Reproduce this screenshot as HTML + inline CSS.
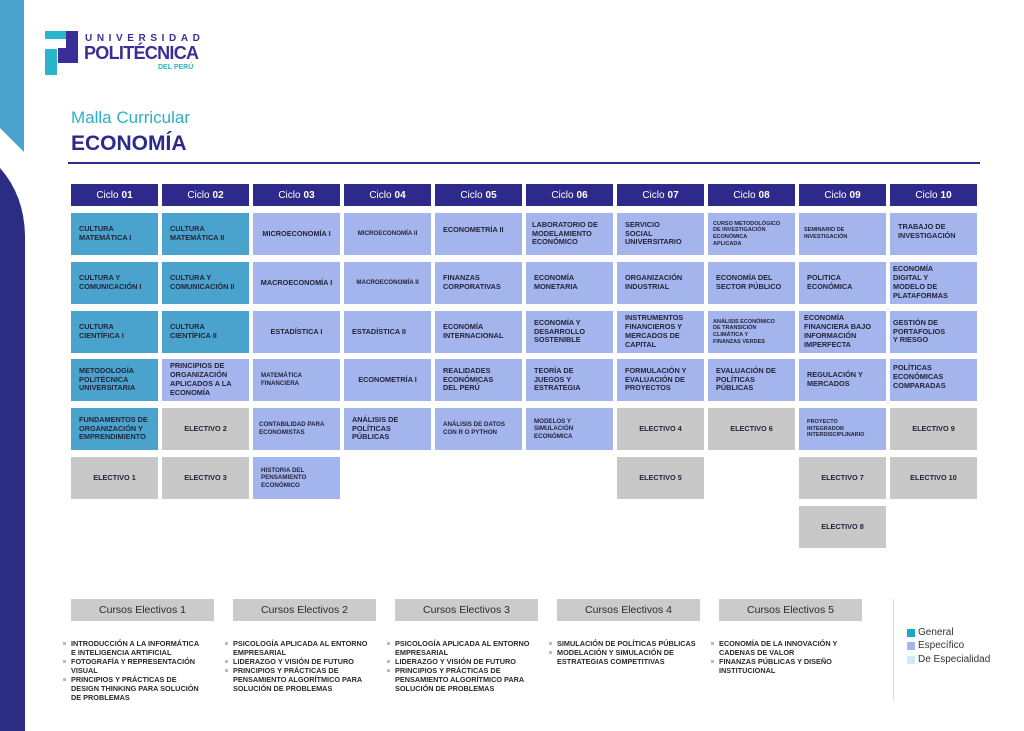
<!DOCTYPE html>
<html><head><meta charset="utf-8"><style>
*{margin:0;padding:0;box-sizing:border-box}
body{width:1024px;height:731px;background:#fff;position:relative;overflow:hidden;font-family:"Liberation Sans",sans-serif}
.a{position:absolute}
.h{position:absolute;top:184px;height:22px;width:87px;background:#2e2a8c;color:#fff;font-size:10px;display:flex;align-items:center;justify-content:center}
.h b{margin-left:3px}
.c{position:absolute;width:87px;height:42px;display:flex;align-items:center;padding:0 8px;font-size:7.3px;font-weight:bold;color:#24243a;line-height:1.22}
.g{background:#4aa3cc}
.s{background:#a4b4ec}
.e{background:#c8c8c8;justify-content:center;text-align:center}
.ct{justify-content:center;text-align:center;padding:0 2px}
.sm{font-size:6.2px}
.eb{position:absolute;top:599px;height:22px;width:143px;background:#cbcbcb;font-size:10.5px;color:#2a2a2a;display:flex;align-items:center;justify-content:center}
.ls{position:absolute;top:639px;font-size:7.3px;font-weight:bold;color:#2a2a2a;line-height:9px;list-style:none}
.ls li{padding-left:8px;position:relative}
.ls li:before{content:"";position:absolute;left:0;top:3px;width:3px;height:3px;background:#bbb}
</style></head><body>
<svg class="a" style="left:0;top:0" width="30" height="731">
<polygon points="0,0 24,0 24,152 0,128" fill="#4aa3cc"/>
<path d="M0,168 Q24,195 25,235 L25,731 L0,731 Z" fill="#2b2d84"/>
</svg>
<svg class="a" style="left:44px;top:30px" width="36" height="46">
<rect x="1" y="1" width="21" height="8" fill="#2ab5cc"/>
<rect x="22" y="1" width="12" height="32" fill="#3a2f98"/>
<rect x="14" y="18" width="20" height="15" fill="#3a2f98"/>
<rect x="1" y="19" width="12" height="26" fill="#2ab5cc"/>
</svg>
<div class="a" style="left:85px;top:33px;font-size:10px;font-weight:bold;letter-spacing:4.6px;color:#3a2f98">UNIVERSIDAD</div>
<div class="a" style="left:84px;top:43px;font-size:18px;font-weight:bold;letter-spacing:-0.7px;color:#3a2f98">POLITÉCNICA</div>
<div class="a" style="left:158px;top:64px;font-size:7px;font-weight:bold;color:#2ab5cc">DEL PERÚ</div>
<div class="a" style="left:71px;top:108px;font-size:17px;color:#2ab0c8">Malla Curricular</div>
<div class="a" style="left:71px;top:132px;font-size:21px;font-weight:bold;color:#2e2a8c">ECONOMÍA</div>
<div class="a" style="left:68px;top:162px;width:912px;height:2px;background:#2e2a8c"></div>

<div class="h" style="left:71px">Ciclo<b>01</b></div>
<div class="h" style="left:162px">Ciclo<b>02</b></div>
<div class="h" style="left:253px">Ciclo<b>03</b></div>
<div class="h" style="left:344px">Ciclo<b>04</b></div>
<div class="h" style="left:435px">Ciclo<b>05</b></div>
<div class="h" style="left:526px">Ciclo<b>06</b></div>
<div class="h" style="left:617px">Ciclo<b>07</b></div>
<div class="h" style="left:708px">Ciclo<b>08</b></div>
<div class="h" style="left:799px">Ciclo<b>09</b></div>
<div class="h" style="left:890px">Ciclo<b>10</b></div>

<div class="c g" style="left:71px;top:213px">CULTURA<br>MATEMÁTICA I</div>
<div class="c g" style="left:71px;top:262px">CULTURA Y<br>COMUNICACIÓN I</div>
<div class="c g" style="left:71px;top:311px">CULTURA<br>CIENTÍFICA I</div>
<div class="c g" style="left:71px;top:359px">METODOLOGÍA<br>POLITÉCNICA<br>UNIVERSITARIA</div>
<div class="c g" style="left:71px;top:408px">FUNDAMENTOS DE<br>ORGANIZACIÓN Y<br>EMPRENDIMIENTO</div>
<div class="c e" style="left:71px;top:457px">ELECTIVO 1</div>

<div class="c g" style="left:162px;top:213px">CULTURA<br>MATEMÁTICA II</div>
<div class="c g" style="left:162px;top:262px">CULTURA Y<br>COMUNICACIÓN II</div>
<div class="c g" style="left:162px;top:311px">CULTURA<br>CIENTÍFICA II</div>
<div class="c s" style="left:162px;top:359px">PRINCIPIOS DE<br>ORGANIZACIÓN<br>APLICADOS A LA<br>ECONOMÍA</div>
<div class="c e" style="left:162px;top:408px">ELECTIVO 2</div>
<div class="c e" style="left:162px;top:457px">ELECTIVO 3</div>

<div class="c s ct" style="left:253px;top:213px">MICROECONOMÍA I</div>
<div class="c s ct" style="left:253px;top:262px">MACROECONOMÍA I</div>
<div class="c s ct" style="left:253px;top:311px">ESTADÍSTICA I</div>
<div class="c s sm" style="left:253px;top:359px">MATEMÁTICA<br>FINANCIERA</div>
<div class="c s sm" style="left:253px;top:408px;padding:0 6px">CONTABILIDAD PARA<br>ECONOMISTAS</div>
<div class="c s sm" style="left:253px;top:457px">HISTORIA DEL<br>PENSAMIENTO<br>ECONÓMICO</div>

<div class="c s sm ct" style="left:344px;top:213px">MICROECONOMÍA II</div>
<div class="c s sm ct" style="left:344px;top:262px">MACROECONOMÍA II</div>
<div class="c s" style="left:344px;top:311px">ESTADÍSTICA II</div>
<div class="c s ct" style="left:344px;top:359px">ECONOMETRÍA I</div>
<div class="c s" style="left:344px;top:408px">ANÁLISIS DE<br>POLÍTICAS<br>PÚBLICAS</div>

<div class="c s" style="left:435px;top:213px;align-items:flex-start;padding-top:13px">ECONOMETRÍA II</div>
<div class="c s" style="left:435px;top:262px">FINANZAS<br>CORPORATIVAS</div>
<div class="c s" style="left:435px;top:311px">ECONOMÍA<br>INTERNACIONAL</div>
<div class="c s" style="left:435px;top:359px">REALIDADES<br>ECONÓMICAS<br>DEL PERÚ</div>
<div class="c s sm" style="left:435px;top:408px">ANÁLISIS DE DATOS<br>CON R O PYTHON</div>

<div class="c s" style="left:526px;top:213px;padding:0 6px">LABORATORIO DE<br>MODELAMIENTO<br>ECONÓMICO</div>
<div class="c s" style="left:526px;top:262px">ECONOMÍA<br>MONETARIA</div>
<div class="c s" style="left:526px;top:311px">ECONOMÍA Y<br>DESARROLLO<br>SOSTENIBLE</div>
<div class="c s" style="left:526px;top:359px">TEORÍA DE<br>JUEGOS Y<br>ESTRATEGIA</div>
<div class="c s sm" style="left:526px;top:408px">MODELOS Y<br>SIMULACIÓN<br>ECONÓMICA</div>

<div class="c s" style="left:617px;top:213px">SERVICIO<br>SOCIAL<br>UNIVERSITARIO</div>
<div class="c s" style="left:617px;top:262px">ORGANIZACIÓN<br>INDUSTRIAL</div>
<div class="c s" style="left:617px;top:311px">INSTRUMENTOS<br>FINANCIEROS Y<br>MERCADOS DE<br>CAPITAL</div>
<div class="c s" style="left:617px;top:359px">FORMULACIÓN Y<br>EVALUACIÓN DE<br>PROYECTOS</div>
<div class="c e" style="left:617px;top:408px">ELECTIVO 4</div>
<div class="c e" style="left:617px;top:457px">ELECTIVO 5</div>

<div class="c s" style="left:708px;top:213px;font-size:5.5px;padding:0 5px">CURSO METODOLÓGICO<br>DE INVESTIGACIÓN<br>ECONÓMICA<br>APLICADA</div>
<div class="c s" style="left:708px;top:262px">ECONOMÍA DEL<br>SECTOR PÚBLICO</div>
<div class="c s" style="left:708px;top:311px;font-size:5.5px;padding:0 5px">ANÁLISIS ECONÓMICO<br>DE TRANSICIÓN<br>CLIMÁTICA Y<br>FINANZAS VERDES</div>
<div class="c s" style="left:708px;top:359px">EVALUACIÓN DE<br>POLÍTICAS<br>PÚBLICAS</div>
<div class="c e" style="left:708px;top:408px">ELECTIVO 6</div>

<div class="c s" style="left:799px;top:213px;font-size:5.5px;padding:0 5px">SEMINARIO DE<br>INVESTIGACIÓN</div>
<div class="c s" style="left:799px;top:262px">POLITICA<br>ECONÓMICA</div>
<div class="c s" style="left:799px;top:311px;padding:0 5px">ECONOMÍA<br>FINANCIERA BAJO<br>INFORMACIÓN<br>IMPERFECTA</div>
<div class="c s" style="left:799px;top:359px">REGULACIÓN Y<br>MERCADOS</div>
<div class="c s" style="left:799px;top:408px;font-size:5.5px">PROYECTO<br>INTEGRADOR<br>INTERDISCIPLINARIO</div>
<div class="c e" style="left:799px;top:457px">ELECTIVO 7</div>
<div class="c e" style="left:799px;top:506px">ELECTIVO 8</div>

<div class="c s" style="left:890px;top:213px;align-items:flex-start;padding-top:10px">TRABAJO DE<br>INVESTIGACIÓN</div>
<div class="c s" style="left:890px;top:262px;padding:0 3px">ECONOMÍA<br>DIGITAL Y<br>MODELO DE<br>PLATAFORMAS</div>
<div class="c s" style="left:890px;top:311px;padding:0 3px">GESTIÓN DE<br>PORTAFOLIOS<br>Y RIESGO</div>
<div class="c s" style="left:890px;top:359px;padding:0 3px;align-items:flex-start;padding-top:5px">POLÍTICAS<br>ECONÓMICAS<br>COMPARADAS</div>
<div class="c e" style="left:890px;top:408px">ELECTIVO 9</div>
<div class="c e" style="left:890px;top:457px">ELECTIVO 10</div>

<div class="eb" style="left:71px">Cursos Electivos 1</div>
<div class="eb" style="left:233px">Cursos Electivos 2</div>
<div class="eb" style="left:395px">Cursos Electivos 3</div>
<div class="eb" style="left:557px">Cursos Electivos 4</div>
<div class="eb" style="left:719px">Cursos Electivos 5</div>

<ul class="ls" style="left:63px"><li>INTRODUCCIÓN A LA INFORMÁTICA<br>E INTELIGENCIA ARTIFICIAL</li><li>FOTOGRAFÍA Y REPRESENTACIÓN<br>VISUAL</li><li>PRINCIPIOS Y PRÁCTICAS DE<br>DESIGN THINKING PARA SOLUCIÓN<br>DE PROBLEMAS</li></ul>
<ul class="ls" style="left:225px"><li>PSICOLOGÍA APLICADA AL ENTORNO<br>EMPRESARIAL</li><li>LIDERAZGO Y VISIÓN DE FUTURO</li><li>PRINCIPIOS Y PRÁCTICAS DE<br>PENSAMIENTO ALGORÍTMICO PARA<br>SOLUCIÓN DE PROBLEMAS</li></ul>
<ul class="ls" style="left:387px"><li>PSICOLOGÍA APLICADA AL ENTORNO<br>EMPRESARIAL</li><li>LIDERAZGO Y VISIÓN DE FUTURO</li><li>PRINCIPIOS Y PRÁCTICAS DE<br>PENSAMIENTO ALGORÍTMICO PARA<br>SOLUCIÓN DE PROBLEMAS</li></ul>
<ul class="ls" style="left:549px"><li>SIMULACIÓN DE POLÍTICAS PÚBLICAS</li><li>MODELACIÓN Y SIMULACIÓN DE<br>ESTRATEGIAS COMPETITIVAS</li></ul>
<ul class="ls" style="left:711px"><li>ECONOMÍA DE LA INNOVACIÓN Y<br>CADENAS DE VALOR</li><li>FINANZAS PÚBLICAS Y DISEÑO<br>INSTITUCIONAL</li></ul>

<div class="a" style="left:893px;top:599px;width:1px;height:102px;background:#ddd"></div>
<div class="a" style="left:907px;top:629px;width:8px;height:8px;background:#1ba8c4"></div>
<div class="a" style="left:918px;top:627px;font-size:10px;color:#333">General</div>
<div class="a" style="left:907px;top:642px;width:8px;height:8px;background:#a4b4ec"></div>
<div class="a" style="left:918px;top:640px;font-size:10px;color:#333">Específico</div>
<div class="a" style="left:907px;top:656px;width:8px;height:8px;background:#d6e8f4"></div>
<div class="a" style="left:918px;top:654px;font-size:10px;color:#333">De Especialidad</div>
</body></html>
